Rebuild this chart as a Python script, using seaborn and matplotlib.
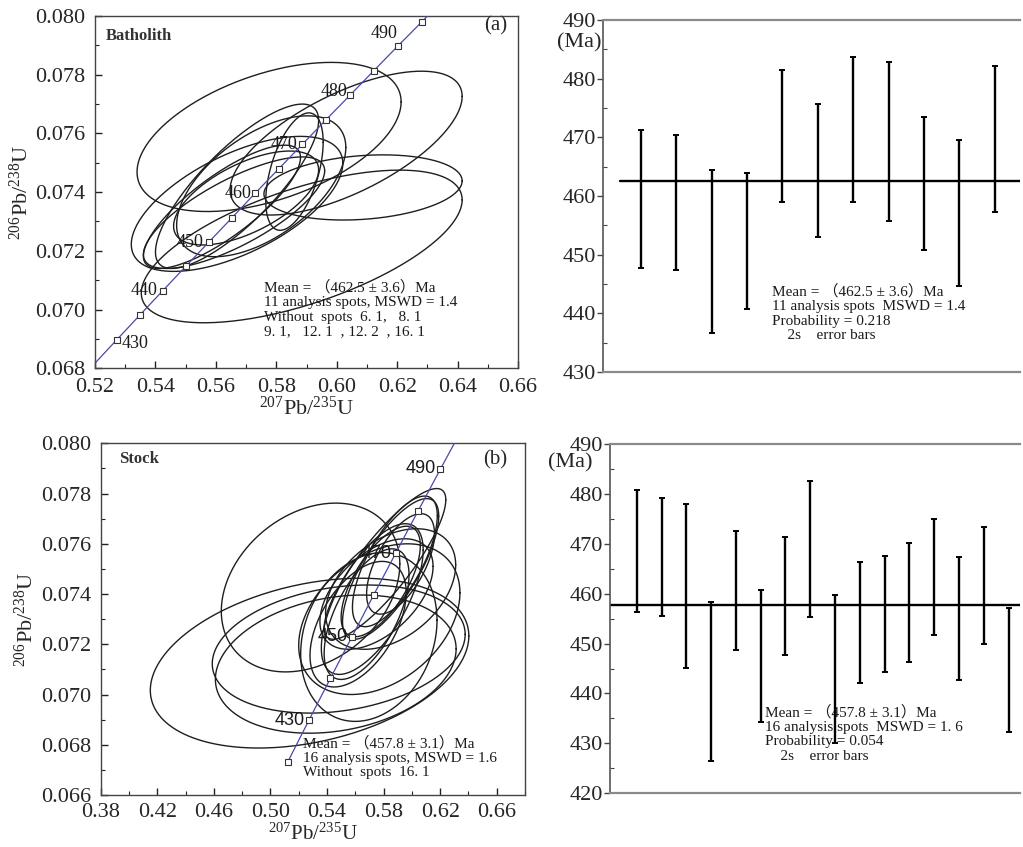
import numpy as np
import pandas as pd
import matplotlib
matplotlib.use("Agg")
import matplotlib.pyplot as plt
from matplotlib.ticker import MultipleLocator, FormatStrFormatter
import seaborn as sns

# Concordia points (age in Ma, 207Pb/235U, 206Pb/238U)
con_age = [420, 425, 430, 435, 440, 445, 450, 455, 460, 465, 470, 475, 480, 485, 490, 495, 500]
con_r207 = [0.51231, 0.51977, 0.52728, 0.53481, 0.54239, 0.55001, 0.55766, 0.56535, 0.57307,
            0.58084, 0.58864, 0.59648, 0.60437, 0.61228, 0.62025, 0.62824, 0.63628]
con_r206 = [0.06732, 0.06815, 0.06898, 0.06981, 0.07064, 0.07147, 0.07230, 0.07313, 0.07397,
            0.07480, 0.07563, 0.07647, 0.07730, 0.07814, 0.07898, 0.07981, 0.08065]

# Batholith error ellipses: centre, half-widths and error correlation
bath_x = [0.5776, 0.6031, 0.6087, 0.5884, 0.5670, 0.5750, 0.5860, 0.5620, 0.5660, 0.5700, 0.5670]
bath_y = [0.07588, 0.07567, 0.07416, 0.07215, 0.07420, 0.07420, 0.07470, 0.07350, 0.07330, 0.07380, 0.07360]
bath_sx = [0.0437, 0.0384, 0.0328, 0.0531, 0.0270, 0.0280, 0.0095, 0.0260, 0.0300, 0.0240, 0.0350]
bath_sy = [0.00254, 0.00245, 0.00111, 0.00260, 0.00280, 0.00240, 0.00200, 0.00210, 0.00190, 0.00160, 0.00230]
bath_rho = [0.47, 0.65, 0.20, 0.61, 0.80, 0.55, 0.50, 0.80, 0.75, 0.60, 0.60]

# Stock error ellipses
stock_x = [0.5277, 0.5284, 0.5483, 0.5462, 0.5696, 0.5810, 0.5770, 0.5850, 0.5880, 0.5720,
           0.5680, 0.5780, 0.5750, 0.5620, 0.5850, 0.5920]
stock_y = [0.07125, 0.07426, 0.07181, 0.07121, 0.07229, 0.07520, 0.07300, 0.07500, 0.07530, 0.07380,
           0.07320, 0.07450, 0.07400, 0.07280, 0.07420, 0.07520]
stock_sx = [0.1126, 0.0631, 0.0894, 0.0851, 0.0482, 0.0430, 0.0570, 0.0340, 0.0300, 0.0360,
            0.0300, 0.0280, 0.0400, 0.0340, 0.0460, 0.0240]
stock_sy = [0.00338, 0.00336, 0.00255, 0.00275, 0.00336, 0.00300, 0.00300, 0.00280, 0.00260, 0.00300,
            0.00260, 0.00220, 0.00220, 0.00250, 0.00240, 0.00200]
stock_rho = [0.32, 0.28, 0.23, 0.22, 0.20, 0.85, 0.35, 0.75, 0.70, 0.65,
             0.60, 0.65, 0.50, 0.50, 0.40, 0.60]

# Spot ages with 2s errors (Ma)
bath_age = [459.5, 458.9, 450.55, 452.3, 470.25, 464.3, 471.35, 469.35, 462.1, 457.05, 469.7]
bath_err = [11.7, 11.5, 13.95, 11.6, 11.25, 11.3, 12.35, 13.55, 11.3, 12.45, 12.5]
bath_mean = 462.5
stock_age = [468.6, 467.35, 461.55, 442.4, 460.7, 447.45, 459.6, 468.9, 444.95, 454.25,
             455.95, 458.25, 463.4, 455.05, 461.7, 444.7]
stock_err = [12.2, 11.85, 16.35, 15.9, 11.9, 13.25, 11.8, 13.6, 14.85, 12.05,
             11.55, 11.85, 11.6, 12.25, 11.7, 12.4]
stock_mean = 457.8

bath_text = ("Mean = \uff08462.5 \u00b1 3.6\uff09Ma\n11 analysis spots, MSWD = 1.4\n"
             "Without  spots  6. 1,   8. 1\n9. 1,   12. 1  , 12. 2  , 16. 1")
stock_text = ("Mean = \uff08457.8 \u00b1 3.1\uff09Ma\n16 analysis spots, MSWD = 1.6\n"
              "Without  spots  16. 1")
bath_wm_text = ("Mean = \uff08462.5 \u00b1 3.6\uff09Ma\n11 analysis spots  MSWD = 1.4\n"
                "Probability = 0.218\n    2s    error bars")
stock_wm_text = ("Mean = \uff08457.8 \u00b1 3.1\uff09Ma\n16 analysis spots  MSWD = 1. 6\n"
                 "Probability = 0.054\n    2s    error bars")

sns.set_theme(style="ticks")
plt.rcParams["font.family"] = ["Liberation Serif", "Noto Sans CJK SC"]
plt.rcParams["mathtext.fontset"] = "custom"
plt.rcParams["mathtext.rm"] = "Liberation Serif"
plt.rcParams["mathtext.it"] = "Liberation Serif:italic"
plt.rcParams["axes.linewidth"] = 1.0

FS = 16
fig = plt.figure(figsize=(10.23, 8.47), dpi=100)
fig.patch.set_facecolor("white")

ax_tl = fig.add_axes([0.0929, 0.5652, 0.4135, 0.4159])
ax_tr = fig.add_axes([0.5894, 0.5608, 0.4076, 0.4156])
ax_bl = fig.add_axes([0.0984, 0.0614, 0.4148, 0.4152])
ax_br = fig.add_axes([0.5963, 0.0634, 0.4008, 0.4124])

con = pd.DataFrame({"age": con_age, "x": con_r207, "y": con_r206})


def ellipse_points(cx, cy, sx, sy, rho, n=300):
    t = np.linspace(0, 2 * np.pi, n)
    x = cx + sx * np.cos(t)
    y = cy + sy * (rho * np.cos(t) + np.sqrt(1 - rho ** 2) * np.sin(t))
    return x, y


def concordia_panel(ax, ex, ey, esx, esy, erho, xlim, ylim, xmaj, xmin, mark_ages,
                    label_specs, label_font, name, tag, note, note_xy, xpad, xlabpad, xlabfs):
    ax.set_facecolor("white")
    for cx, cy, sx, sy, r in zip(ex, ey, esx, esy, erho):
        x, y = ellipse_points(cx, cy, sx, sy, r)
        ax.plot(x, y, color="#1e1e1e", lw=1.0, zorder=2)
    sns.lineplot(data=con, x="x", y="y", sort=False, estimator=None, ax=ax,
                 color="#4a4aa8", lw=0.9, zorder=3)
    m = con[con["age"].isin(mark_ages)]
    ax.plot(m["x"], m["y"], "s", ms=4.3, mfc="white", mec="#333333", mew=0.8, zorder=5)
    for age, ha, va, dx, dy in label_specs:
        row = con[con["age"] == age].iloc[0]
        ax.annotate(str(age), (row["x"], row["y"]), xytext=(dx, dy), textcoords="offset points",
                    ha=ha, va=va, fontsize=13, family=label_font, color="#1a1a1a", zorder=6)
    ax.set_xlim(*xlim)
    ax.set_ylim(*ylim)
    ax.xaxis.set_major_locator(MultipleLocator(xmaj))
    ax.xaxis.set_minor_locator(MultipleLocator(xmin))
    ax.yaxis.set_major_locator(MultipleLocator(0.002))
    ax.yaxis.set_minor_locator(MultipleLocator(0.001))
    ax.xaxis.set_major_formatter(FormatStrFormatter("%.2f"))
    ax.yaxis.set_major_formatter(FormatStrFormatter("%.3f"))
    ax.tick_params(which="both", direction="in", top=False, right=False,
                   labelsize=FS, color="#222222")
    ax.tick_params(which="major", length=5, width=1.0)
    ax.tick_params(axis="x", which="major", pad=xpad)
    ax.tick_params(axis="y", which="major", pad=7)
    ax.tick_params(which="minor", length=3, width=0.8)
    for s in ax.spines.values():
        s.set_color("#444444")
        s.set_linewidth(1.0)
    ax.set_xlabel(r"$^{207}$Pb/$^{235}$U", fontsize=xlabfs, labelpad=xlabpad)
    ax.set_ylabel(r"$^{206}$Pb/$^{238}$U", fontsize=FS, labelpad=2)
    ax.text(*name, transform=ax.transAxes, fontsize=12, weight="bold", color="#333333",
            ha="left", va="center")
    ax.text(*tag, transform=ax.transAxes, fontsize=15, ha="center", va="center")
    ax.text(note_xy[0], note_xy[1], note, transform=ax.transAxes, fontsize=11,
            ha="left", va="top", linespacing=1.15, color="#1a1a1a", zorder=7)


concordia_panel(
    ax_tl, bath_x, bath_y, bath_sx, bath_sy, bath_rho,
    (0.52, 0.66), (0.068, 0.080), 0.02, 0.01,
    [430, 435, 440, 445, 450, 455, 460, 465, 470, 475, 480, 485, 490, 495],
    [(430, "left", "center", 3, -3), (440, "right", "center", -4, 0),
     (450, "right", "center", -4, 0), (460, "right", "center", -3, 0),
     (470, "right", "center", -4, 0), (480, "right", "center", -2, 3),
     (490, "right", "bottom", 0, 3)],
    "Liberation Serif", (0.025, 0.943, "Batholith"), (0.948, 0.973, "(a)"),
    bath_text, (0.399, 0.25), 7, 0, FS)

concordia_panel(
    ax_bl, stock_x, stock_y, stock_sx, stock_sy, stock_rho,
    (0.38, 0.68), (0.066, 0.080), 0.04, 0.02,
    [420, 430, 440, 450, 460, 470, 480, 490],
    [(430, "right", "center", -3, 0), (450, "right", "center", -3, 0),
     (470, "right", "center", -3, 0), (490, "right", "center", -3, 0)],
    "Liberation Sans", (0.043, 0.955, "Stock"), (0.930, 0.954, "(b)"),
    stock_text, (0.478, 0.168), 6, 1, 15)
ax_bl.set_xticks([0.38, 0.42, 0.46, 0.50, 0.54, 0.58, 0.62, 0.66])


def age_panel(ax, ages, errs, mean, ylim, xlim, mean_start, note, note_xy, ma_xy):
    ax.set_facecolor("white")
    pos = np.arange(1, len(ages) + 1)
    df = pd.DataFrame({"spot": pos, "age": ages, "err": errs})
    ax.errorbar(df["spot"], df["age"], yerr=df["err"], fmt="none", ecolor="black",
                elinewidth=1.7, capsize=2.2, capthick=1.4, zorder=3)
    ax.axhline(mean, xmin=mean_start, xmax=1, color="black", lw=1.7, zorder=2)
    ax.set_xlim(*xlim)
    ax.set_ylim(*ylim)
    ax.set_xticks([])
    ax.yaxis.set_major_locator(MultipleLocator(10))
    ax.yaxis.set_minor_locator(MultipleLocator(5))
    ax.tick_params(axis="y", which="major", direction="out", length=4, width=1.0,
                   labelsize=FS, pad=1, color="#444444")
    ax.tick_params(axis="y", which="minor", direction="in", length=3, width=0.8,
                   color="#444444")
    ax.spines["right"].set_visible(False)
    for k in ("top", "bottom"):
        ax.spines[k].set_color("#8a8a8a")
        ax.spines[k].set_linewidth(1.6)
    ax.spines["left"].set_color("#555555")
    ax.spines["left"].set_linewidth(1.2)
    ax.text(ma_xy[0], ma_xy[1], "(Ma)", transform=ax.transAxes, fontsize=FS,
            ha="center", va="center")
    ax.text(note_xy[0], note_xy[1], note, transform=ax.transAxes, fontsize=11,
            ha="left", va="top", linespacing=1.15, color="#1a1a1a", zorder=5)


age_panel(ax_tr, bath_age, bath_err, bath_mean, (430, 490), (-0.073, 11.71), 0.04,
          bath_wm_text, (0.405, 0.25), (-0.058, 0.935))
age_panel(ax_br, stock_age, stock_err, stock_mean, (420, 490), (-0.077, 16.46), 0.0,
          stock_wm_text, (0.378, 0.253), (-0.098, 0.946))

fig.savefig("out.png", dpi=100, facecolor="white")
